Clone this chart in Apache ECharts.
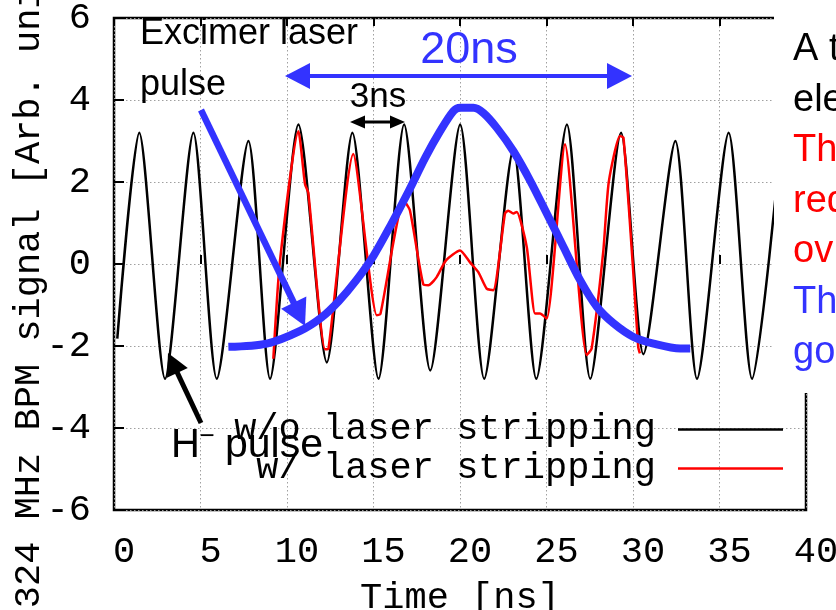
<!DOCTYPE html>
<html>
<head>
<meta charset="utf-8">
<title>BPM signal</title>
<script src="https://cdn.jsdelivr.net/npm/echarts@6.0.0/dist/echarts.min.js"></script>
<style>
  html, body { margin: 0; padding: 0; background: #fff; }
  #chart { width: 836px; height: 610px; }
</style>
</head>
<body>
<div id="chart"></div>
<script>
// 324 MHz BPM signal, w/o laser stripping (peaks and troughs)
const blackTime = [0.19, 1.46, 2.95, 4.59, 5.94, 7.77, 9.02, 10.66, 12.30, 13.78, 15.29, 16.77, 18.28,
  20.01, 21.40, 23.09, 24.41, 26.18, 27.53, 29.31, 30.60, 32.45, 33.70, 35.53, 36.88, 38.6];
const blackSignal = [-1.82, 3.2, -2.8, 3.2, -2.8, 3.0, -2.8, 3.4, -2.4, 3.2, -2.8, 3.4, -2.6,
  3.4, -2.8, 2.8, -2.8, 3.4, -2.8, 3.2, -2.2, 3.0, -2.8, 3.2, -2.8, 3.2];

// w/ laser stripping
const redTime = [9.21, 9.6, 10.66, 11.04, 11.23, 12.2, 12.4, 13.83, 15.19, 15.4, 16.76, 17.11, 17.88,
  18.17, 18.65, 19.19, 20.0, 20.58, 21.06, 21.54, 21.92, 22.6, 22.79, 23.08, 23.28, 23.86, 24.34,
  24.62, 25.01, 26.07, 27.32, 27.61, 28.28, 28.6, 29.25, 29.45, 30.0, 30.3, 30.4];
const redSignal = [-2.31, 0.1, 3.24, 1.95, 1.74, -2.08, -2.06, 2.68, -1.25, -1.22, 1.54, 1.3, -0.5,
  -0.52, -0.32, 0.09, 0.33, 0.04, -0.2, -0.6, -0.64, 1.23, 1.3, 1.23, 1.27, 0.41, -1.21,
  -1.21, -1.33, 2.92, -2.22, -2.06, 0.3, 2.0, 3.12, 3.08, -0.1, -2.02, -2.18];

// excimer laser pulse shape
const laserTime = [6.61, 8.83, 10.76, 12.0, 13.0, 14.0, 15.0, 16.0, 17.0, 18.0, 18.85, 19.62, 20.01,
  20.78, 21.36, 22.13, 23.09, 24.06, 25.03, 25.99, 26.95, 27.92, 28.88, 30.03, 31.19, 32.73, 33.31];
const laserSignal = [-2.02, -1.94, -1.63, -1.3, -0.9, -0.4, 0.2, 0.95, 1.75, 2.6, 3.24, 3.73, 3.81,
  3.81, 3.68, 3.32, 2.75, 2.03, 1.22, 0.41, -0.4, -1.05, -1.45, -1.78, -1.94, -2.06, -2.06];

const seriesNames = ['w/o laser stripping', 'w/ laser stripping'];
const sideNote = ['A t', 'ele', 'Th', 'red', 'ov', 'Th', 'go'];
const sideNoteColors = ['#000', '#000', '#ff0000', '#ff0000', '#ff0000', '#3333ff', '#3333ff'];

const zip = (xs, ys) => xs.map((x, i) => [x, ys[i]]);

const mono = 'Liberation Mono';
const sans = 'Liberation Sans';
const blue = '#3333ff';

// arrow made of a line and one or two triangular heads
function arrow(x1, y1, x2, y2, color, width, headLen, headW, both) {
  const len = Math.hypot(x2 - x1, y2 - y1);
  const ux = (x2 - x1) / len, uy = (y2 - y1) / len;
  const head = (tx, ty, s) => {
    const bx = tx - s * ux * headLen, by = ty - s * uy * headLen;
    return {
      type: 'polygon', z: 60,
      shape: { points: [[tx, ty], [bx - uy * headW / 2, by + ux * headW / 2], [bx + uy * headW / 2, by - ux * headW / 2]] },
      style: { fill: color }
    };
  };
  const sx = both ? x1 + ux * headLen * 0.8 : x1;
  const sy = both ? y1 + uy * headLen * 0.8 : y1;
  const els = [{
    type: 'line', z: 60,
    shape: { x1: sx, y1: sy, x2: x2 - ux * headLen * 0.8, y2: y2 - uy * headLen * 0.8 },
    style: { stroke: color, lineWidth: width }
  }, head(x2, y2, 1)];
  if (both) els.push(head(x1, y1, -1));
  return els;
}

function label(text, x, y, size, color, align) {
  return {
    type: 'text', z: 70, x: x, y: y,
    style: { text: text, fontFamily: sans, fontSize: size, fill: color, align: align || 'left', verticalAlign: 'middle' }
  };
}

const chart = echarts.init(document.getElementById('chart'));

const graphics = [
  // slide text box covering the right edge of the plot
  { type: 'rect', z: 65, shape: { x: 774, y: 0, width: 62, height: 393 }, style: { fill: '#fff' } },
  label('Excimer laser', 140, 34, 36, '#000'),
  label('pulse', 140, 85, 36, '#000'),
  label('20ns', 469, 51, 45, blue, 'center'),
  label('3ns', 378, 97, 35, '#000', 'center'),
  label('H', 171, 446, 40, '#000'),
  label('\u2212', 207, 437, 26, '#000', 'center'),
  label('pulse', 225, 446, 41, '#000'),
  ...arrow(285, 76, 632, 76, blue, 4, 25, 26, true),
  ...arrow(350, 122, 405, 122, '#000', 3, 15, 13, true),
  ...arrow(201, 110, 305, 326, blue, 6.5, 26, 28, false),
  ...arrow(201, 423, 168, 353, '#000', 5, 22, 23, false)
];
sideNote.forEach((t, i) => {
  graphics.push(label(t, 793, 50 + i * 50.5, 38, sideNoteColors[i]));
});

const gridLine = { show: true, lineStyle: { color: '#a0a0a0', width: 1, type: [1.5, 2.5] } };

chart.setOption({
  animation: false,
  backgroundColor: '#fff',
  grid: {
    left: 114, top: 18, width: 692, height: 492,
    outerBoundsMode: 'none', containLabel: false,
    show: true, borderColor: '#000', borderWidth: 2.5
  },
  legend: {
    data: seriesNames,
    orient: 'vertical',
    right: 48,
    top: 406,
    align: 'right',
    icon: 'rect',
    itemWidth: 105,
    itemHeight: 2.5,
    itemGap: 2,
    textStyle: { fontFamily: mono, fontSize: 37, color: '#000', padding: [0, 17, 0, 0] }
  },
  xAxis: [{
    type: 'value', min: 0, max: 40, interval: 5,
    name: 'Time [ns]', nameLocation: 'middle', nameGap: 70,
    nameTextStyle: { fontFamily: mono, fontSize: 37, color: '#000' },
    axisLine: { show: false },
    axisTick: { show: true, inside: true, length: 9, lineStyle: { color: '#000', width: 2 } },
    axisLabel: { fontFamily: mono, fontSize: 37, color: '#000', margin: 24, padding: [0, 0, 0, 20] },
    splitLine: gridLine
  }, {
    type: 'value', min: 0, max: 40, interval: 5, position: 'top',
    axisLine: { show: false },
    axisTick: { show: true, inside: true, length: 8, lineStyle: { color: '#000', width: 2 } },
    axisLabel: { show: false },
    splitLine: { show: false }
  }],
  yAxis: {
    type: 'value', min: -6, max: 6, interval: 2,
    name: '324 MHz BPM signal [Arb. units]', nameLocation: 'middle', nameRotate: 90, nameGap: 66,
    nameMoveOverlap: false,
    nameTextStyle: { fontFamily: mono, fontSize: 37, color: '#000' },
    axisLine: { show: false },
    axisTick: { show: true, inside: true, length: 10, lineStyle: { color: '#000', width: 2 } },
    axisLabel: { fontFamily: mono, fontSize: 37, color: '#000', margin: 23, padding: [8, 0, 0, 0] },
    splitLine: gridLine
  },
  series: [{
    name: seriesNames[0], type: 'line', data: zip(blackTime, blackSignal),
    showSymbol: false, smooth: 0.25, color: '#000',
    lineStyle: { color: '#000', width: 2.5 }
  }, {
    name: seriesNames[1], type: 'line', data: zip(redTime, redSignal),
    showSymbol: false, smooth: 0.2, color: '#ff0000',
    lineStyle: { color: '#ff0000', width: 2.5 }
  }, {
    name: 'laser', type: 'line', data: zip(laserTime, laserSignal),
    showSymbol: false, smooth: 0.3, color: blue,
    lineStyle: { color: blue, width: 8 }
  }],
  graphic: graphics
});
</script>
</body>
</html>
